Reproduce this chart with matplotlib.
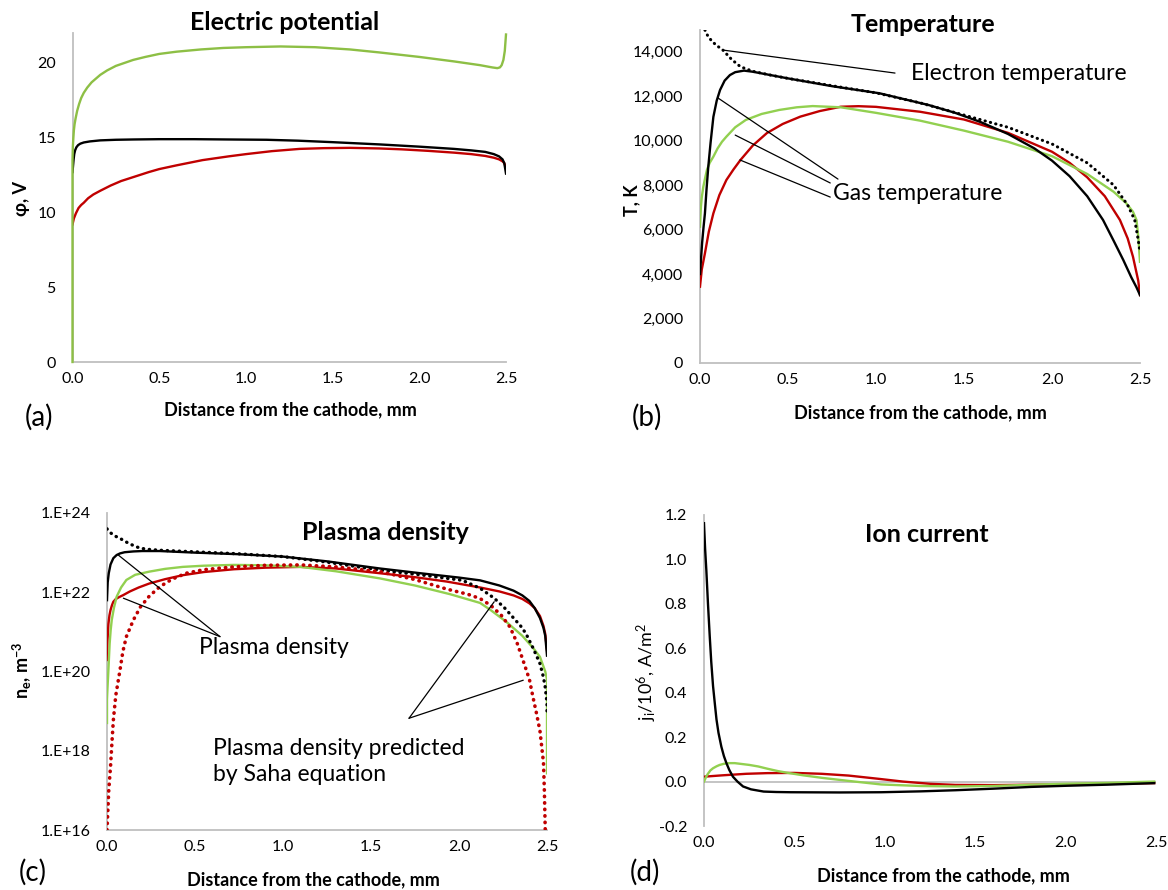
import numpy as np
import matplotlib
matplotlib.use('Agg')
import matplotlib.pyplot as plt
from matplotlib.ticker import FixedLocator, FixedFormatter

plt.rcParams['font.family'] = ['Lato', 'DejaVu Sans']
plt.rcParams['mathtext.fontset'] = 'custom'
plt.rcParams['mathtext.rm'] = 'Lato'
plt.rcParams['mathtext.bf'] = 'Lato:bold'
plt.rcParams['mathtext.it'] = 'Lato:italic'

BLACK = '#000000'
RED = '#c00000'
GREEN = '#92d050'
GREEN_A = '#8dbf45'
AXC = '#bfbfbf'

# ---- (a) electric potential, V
xa_green = [0, 0, 0.002, 0.005, 0.008, 0.012, 0.018, 0.027, 0.038, 0.05, 0.065, 0.085, 0.11, 0.135,
            0.16, 0.2, 0.25, 0.3, 0.35, 0.42, 0.5, 0.6, 0.74, 0.87, 1.0, 1.2, 1.4, 1.6, 1.77, 2.0,
            2.2, 2.35, 2.42, 2.45, 2.465, 2.475, 2.485, 2.493, 2.5]
phi_green = [0, 13.5, 14.4, 15.0, 15.5, 15.9, 16.3, 16.8, 17.25, 17.65, 18.0, 18.35, 18.7, 18.95,
             19.2, 19.5, 19.8, 20.0, 20.2, 20.4, 20.6, 20.75, 20.9, 21.0, 21.05, 21.1, 21.05, 20.9,
             20.7, 20.4, 20.1, 19.85, 19.7, 19.65, 19.7, 19.85, 20.2, 20.8, 21.9]
xa_black = [0, 0.003, 0.006, 0.01, 0.015, 0.022, 0.032, 0.045, 0.065, 0.1, 0.16, 0.25, 0.35, 0.5,
            0.7, 0.9, 1.12, 1.3, 1.5, 1.77, 2.0, 2.2, 2.3, 2.38, 2.43, 2.46, 2.48, 2.49, 2.5]
phi_black = [12.7, 13.1, 13.5, 13.9, 14.15, 14.35, 14.5, 14.6, 14.68, 14.75, 14.82, 14.86, 14.88,
             14.9, 14.9, 14.88, 14.86, 14.8, 14.7, 14.55, 14.4, 14.25, 14.15, 14.05, 13.9, 13.75,
             13.55, 13.3, 12.6]
xa_red = [0, 0.008, 0.02, 0.035, 0.05, 0.065, 0.09, 0.12, 0.16, 0.22, 0.28, 0.36, 0.44, 0.5, 0.6,
          0.75, 0.9, 1.0, 1.15, 1.31, 1.45, 1.6, 1.77, 1.9, 2.05, 2.2, 2.3, 2.38, 2.43, 2.46, 2.48,
          2.49, 2.5]
phi_red = [9.2, 9.6, 9.95, 10.3, 10.5, 10.65, 10.95, 11.2, 11.45, 11.8, 12.1, 12.4, 12.7, 12.9,
           13.15, 13.5, 13.75, 13.9, 14.1, 14.25, 14.3, 14.32, 14.28, 14.22, 14.12, 14.0, 13.9,
           13.78, 13.66, 13.55, 13.42, 13.3, 13.0]

# ---- (b) temperature, K
xb_black = [0, 0.006, 0.012, 0.02, 0.028, 0.037, 0.047, 0.06, 0.076, 0.095, 0.114, 0.14, 0.17, 0.2,
            0.25, 0.3, 0.4, 0.5, 0.75, 1.02, 1.3, 1.45, 1.59, 1.75, 1.9, 2.0, 2.1, 2.2, 2.29, 2.35,
            2.405, 2.45, 2.48, 2.5]
T_black = [4000, 4700, 5400, 6100, 6730, 7800, 8820, 9900, 11070, 11800, 12280, 12700, 12950, 13080,
           13150, 13100, 12950, 12800, 12450, 12130, 11600, 11250, 10850, 10300, 9650, 9100, 8400,
           7500, 6430, 5500, 4630, 3860, 3400, 3050]
xb_red = [0, 0.01, 0.028, 0.05, 0.076, 0.11, 0.15, 0.19, 0.23, 0.3, 0.38, 0.47, 0.57, 0.68, 0.8,
          0.9, 1.0, 1.25, 1.5, 1.75, 2.0, 2.1, 2.2, 2.3, 2.386, 2.43, 2.46, 2.49, 2.5]
T_red = [3430, 4200, 4930, 5900, 6730, 7550, 8230, 8700, 9130, 9780, 10340, 10750, 11080, 11330,
         11525, 11550, 11520, 11300, 10950, 10350, 9500, 9000, 8350, 7500, 6430, 5600, 4780, 3700,
         3050]
xb_green = [0, 0.005, 0.01, 0.019, 0.03, 0.04, 0.055, 0.076, 0.1, 0.125, 0.15, 0.2, 0.26, 0.35, 0.45,
            0.55, 0.64, 0.8, 1.0, 1.25, 1.5, 1.75, 2.0, 2.2, 2.35, 2.42, 2.46, 2.48, 2.49, 2.5]
T_green = [6130, 7000, 7450, 7930, 8350, 8700, 9000, 9280, 9650, 9950, 10180, 10600, 10930, 11200,
           11380, 11500, 11555, 11500, 11250, 10900, 10450, 9950, 9300, 8500, 7700, 7200, 6800,
           6430, 5700, 4550]
xb_el = [0.015, 0.028, 0.045, 0.07, 0.1, 0.13, 0.18, 0.23, 0.3, 0.4, 0.5, 0.75, 1.0, 1.25, 1.5,
         1.75, 2.0, 2.2, 2.35, 2.43, 2.47, 2.49, 2.5]
T_el = [15200, 14975, 14700, 14450, 14250, 14075, 13650, 13325, 13120, 12950, 12800, 12470, 12150,
        11700, 11150, 10600, 9850, 9000, 8000, 7100, 6430, 5530, 5000]

# ---- (c) plasma density, log10 of m^-3
xc_black_saha = [0, 0.02, 0.045, 0.074, 0.1, 0.13, 0.16, 0.19, 0.24, 0.3, 0.4, 0.5, 0.75, 1.0, 1.25,
                 1.55, 1.8, 2.02, 2.12, 2.2, 2.26, 2.31, 2.35, 2.38, 2.42, 2.46, 2.48, 2.49, 2.5,
                 2.5]
lg_black_saha = [23.6, 23.5, 23.42, 23.36, 23.29, 23.22, 23.16, 23.11, 23.08, 23.06, 23.04, 23.02,
                 22.97, 22.9, 22.76, 22.56, 22.43, 22.3, 22.1, 21.85, 21.6, 21.35, 21.15, 20.96,
                 20.6, 20.2, 19.85, 19.6, 19.2, 18.95]
xc_black = [0, 0.004, 0.01, 0.02, 0.036, 0.055, 0.074, 0.1, 0.15, 0.2, 0.3, 0.5, 0.75, 1.0, 1.25,
            1.55, 1.8, 2.0, 2.12, 2.23, 2.31, 2.36, 2.4, 2.43, 2.46, 2.48, 2.49, 2.5]
lg_black = [21.8, 22.25, 22.48, 22.7, 22.86, 22.94, 22.98, 23.01, 23.03, 23.04, 23.04, 23.0, 22.96,
            22.9, 22.78, 22.6, 22.47, 22.37, 22.3, 22.17, 22.04, 21.92, 21.78, 21.6, 21.35, 21.1,
            20.9, 20.4]
xc_red = [0, 0.003, 0.008, 0.014, 0.02, 0.028, 0.036, 0.05, 0.07, 0.093, 0.13, 0.18, 0.24, 0.33,
          0.43, 0.55, 0.72, 0.9, 1.1, 1.3, 1.55, 1.75, 1.93, 2.12, 2.23, 2.31, 2.36, 2.4, 2.43,
          2.46, 2.48, 2.49, 2.5]
lg_red = [20.29, 20.8, 21.2, 21.42, 21.55, 21.67, 21.76, 21.83, 21.88, 21.93, 22.02, 22.12, 22.22,
          22.33, 22.43, 22.51, 22.58, 22.62, 22.64, 22.6, 22.48, 22.38, 22.27, 22.12, 22.02, 21.92,
          21.83, 21.72, 21.6, 21.4, 21.15, 20.95, 20.54]
xc_green = [0, 0, 0.003, 0.008, 0.015, 0.021, 0.027, 0.04, 0.055, 0.08, 0.11, 0.16, 0.24, 0.33,
            0.43, 0.55, 0.72, 0.9, 1.1, 1.3, 1.55, 1.75, 1.95, 2.12, 2.18, 2.27, 2.36, 2.42, 2.46,
            2.49, 2.5, 2.5]
lg_green = [18.7, 19.3, 19.6, 20.04, 20.7, 21.05, 21.3, 21.62, 21.89, 22.12, 22.31, 22.44, 22.52,
            22.59, 22.64, 22.67, 22.69, 22.68, 22.64, 22.53, 22.35, 22.17, 21.95, 21.73, 21.55,
            21.25, 20.9, 20.6, 20.37, 20.0, 19.8, 17.43]
xc_red_saha = [0, 0.005, 0.01, 0.02, 0.028, 0.036, 0.05, 0.074, 0.09, 0.11, 0.15, 0.19, 0.24, 0.3,
               0.37, 0.45, 0.55, 0.72, 0.9, 1.1, 1.3, 1.55, 1.75, 1.93, 2.05, 2.12, 2.18, 2.24,
               2.29, 2.33, 2.37, 2.4, 2.42, 2.44, 2.46, 2.47, 2.48, 2.485, 2.49]
lg_red_saha = [16.0, 16.5, 17.0, 17.6, 18.2, 18.77, 19.4, 20.04, 20.5, 20.88, 21.3, 21.63, 21.9,
               22.14, 22.33, 22.48, 22.57, 22.64, 22.68, 22.69, 22.64, 22.52, 22.32, 22.08, 21.95,
               21.84, 21.67, 21.42, 21.12, 20.72, 20.2, 19.8, 19.36, 18.95, 18.5, 18.1, 17.7, 17.0,
               16.0]

# ---- (d) ion current density, 10^6 A/m^2
xd_black = [0, 0.006, 0.013, 0.022, 0.032, 0.04, 0.05, 0.06, 0.069, 0.08, 0.096, 0.11, 0.124, 0.14,
            0.16, 0.185, 0.216, 0.26, 0.33, 0.4, 0.48, 0.75, 0.98, 1.2, 1.39, 1.6, 1.81, 2.0, 2.23,
            2.49]
j_black = [1.163, 1.05, 0.95, 0.8, 0.65, 0.54, 0.43, 0.35, 0.28, 0.22, 0.157, 0.115, 0.083, 0.052,
           0.022, 0.0, -0.022, -0.035, -0.045, -0.047, -0.048, -0.049, -0.048, -0.044, -0.039,
           -0.032, -0.024, -0.019, -0.014, -0.007]
xd_red = [0, 0.1, 0.234, 0.35, 0.5, 0.65, 0.8, 0.97, 1.1, 1.25, 1.39, 1.6, 1.81, 2.23, 2.49]
j_red = [0.022, 0.028, 0.035, 0.038, 0.039, 0.035, 0.027, 0.012, 0.0, -0.01, -0.015, -0.016, -0.014,
         -0.01, -0.007]
xd_green = [0, 0.01, 0.02, 0.035, 0.05, 0.07, 0.087, 0.11, 0.14, 0.17, 0.2, 0.25, 0.3, 0.35, 0.41,
            0.48, 0.55, 0.66, 0.8, 0.98, 1.2, 1.39, 1.6, 1.81, 2.0, 2.23, 2.49]
j_green = [0, 0.018, 0.033, 0.05, 0.06, 0.069, 0.075, 0.08, 0.083, 0.083, 0.08, 0.075, 0.068, 0.058,
           0.047, 0.037, 0.028, 0.016, 0.003, -0.013, -0.02, -0.022, -0.02, -0.014, -0.01, -0.006,
           0.0]

x_ticks = [0.0, 0.5, 1.0, 1.5, 2.0, 2.5]

W, H = 1168, 890
fig = plt.figure(figsize=(W / 100, H / 100), dpi=100)


def place(l, t, r, b):
    return fig.add_axes([l / W, 1 - b / H, (r - l) / W, (b - t) / H])


def ftext(x, y, s, **kw):
    fig.text(x / W, 1 - y / H, s, **kw)


def style(ax):
    for s in ('top', 'right'):
        ax.spines[s].set_visible(False)
    for s in ('left', 'bottom'):
        ax.spines[s].set_color(AXC)
        ax.spines[s].set_linewidth(1.3)
    ax.tick_params(length=0, labelsize=11.5, colors='black')
    ax.tick_params(axis='x', pad=7)
    ax.tick_params(axis='y', pad=12)
    ax.set_xlim(0, 2.5)
    ax.set_xticks(x_ticks)
    ax.set_xticklabels(['%.1f' % v for v in x_ticks])
    ax.patch.set_alpha(0)


solid = dict(lw=1.7, zorder=3, solid_joinstyle='round')
dots = dict(linestyle=(0, (0.1, 1.7)), dash_capstyle='round', zorder=3)
leader = dict(arrowstyle='-', lw=0.9, color='black', shrinkA=0, shrinkB=0)
note = dict(fontsize=16.5, va='center', ha='left')

# (a)
ax = place(72.5, 33, 506, 362)
style(ax)
ax.plot(xa_red, phi_red, color=RED, **solid)
ax.plot(xa_black, phi_black, color=BLACK, **solid)
ax.plot(xa_green, phi_green, color=GREEN_A, clip_on=False, **solid)
ax.set_ylim(0, 22)
ax.set_yticks([0, 5, 10, 15, 20])

# (b)
ax = place(700, 29.5, 1140, 362.9)
style(ax)
ax.plot(xb_red, T_red, color=RED, **solid)
ax.plot(xb_green, T_green, color=GREEN, **solid)
ax.plot(xb_black, T_black, color=BLACK, **solid)
ax.plot(xb_el, T_el, color=BLACK, lw=2.2, **dots)
ax.set_ylim(0, 15000)
ax.set_yticks(range(0, 14001, 2000))
ax.set_yticklabels(['{:,}'.format(v) for v in range(0, 14001, 2000)])
ax.annotate('', xy=(0.13, 14075), xytext=(1.108, 13040), arrowprops=leader)
ax.text(1.2, 13000, 'Electron temperature', **note)
ax.annotate('', xy=(0.102, 11920), xytext=(0.784, 8270), arrowprops=leader)
ax.annotate('', xy=(0.2, 10250), xytext=(0.74, 8095), arrowprops=leader)
ax.annotate('', xy=(0.227, 9130), xytext=(0.74, 7460), arrowprops=leader)
ax.text(0.755, 7640, 'Gas temperature', **note)

# (c)
ax = place(107, 513, 547, 830)
style(ax)
ax.set_yscale('log')
ax.plot(xc_red, 10 ** np.array(lg_red), color=RED, **solid)
ax.plot(xc_black, 10 ** np.array(lg_black), color=BLACK, **solid)
ax.plot(xc_green, 10 ** np.array(lg_green), color=GREEN, **solid)
ax.plot(xc_black_saha, 10 ** np.array(lg_black_saha), color=BLACK, lw=2.4, **dots)
ax.plot(xc_red_saha, 10 ** np.array(lg_red_saha), color=RED, lw=2.6, **dots)
ax.set_ylim(1e16, 1e24)
c_ticks = [1e16, 1e18, 1e20, 1e22, 1e24]
ax.yaxis.set_major_locator(FixedLocator(c_ticks))
ax.yaxis.set_major_formatter(FixedFormatter(['1.E+16', '1.E+18', '1.E+20', '1.E+22', '1.E+24']))
ax.yaxis.set_minor_locator(FixedLocator([]))
ax.annotate('', xy=(0.064, 10 ** 22.94), xytext=(0.642, 10 ** 20.88), arrowprops=leader)
ax.annotate('', xy=(0.093, 10 ** 21.85), xytext=(0.642, 10 ** 20.88), arrowprops=leader)
ax.text(0.52, 10 ** 20.6, 'Plasma density', **note)
ax.annotate('', xy=(2.2, 10 ** 21.76), xytext=(1.716, 10 ** 18.82), arrowprops=leader)
ax.annotate('', xy=(2.365, 10 ** 19.78), xytext=(1.716, 10 ** 18.82), arrowprops=leader)
ax.text(0.6, 10 ** 17.74, 'Plasma density predicted\nby Saha equation', linespacing=1.3, **note)

# (d)
ax = place(704, 515, 1156, 826)
style(ax)
ax.spines['bottom'].set_visible(False)
ax.axhline(0, color=AXC, lw=1.3, zorder=1)
ax.plot(xd_red, j_red, color=RED, **solid)
ax.plot(xd_green, j_green, color=GREEN, **solid)
ax.plot(xd_black, j_black, color=BLACK, **solid)
ax.set_ylim(-0.2, 1.2)
d_ticks = [-0.2, 0.0, 0.2, 0.4, 0.6, 0.8, 1.0, 1.2]
ax.set_yticks(d_ticks)
ax.set_yticklabels(['%.1f' % v for v in d_ticks])

# titles, axis labels, panel letters
title = dict(fontsize=18, fontweight='bold', ha='center', va='center')
ftext(285, 22, 'Electric potential', **title)
ftext(923, 24, 'Temperature', **title)
ftext(385, 532, 'Plasma density', **title)
ftext(927, 535, 'Ion current', **title)

xl = 'Distance from the cathode, mm'
xlab = dict(fontsize=13, fontweight='bold', ha='center', va='center')
ftext(290, 410, xl, **xlab)
ftext(920, 413, xl, **xlab)
ftext(313, 880, xl, **xlab)
ftext(943, 876, xl, **xlab)

ylab = dict(fontsize=13, rotation=90, ha='center', va='center')
ftext(21, 198, 'φ, V', fontweight='bold', **ylab)
ftext(632, 200, 'T, K', fontweight='bold', **ylab)
ftext(23, 670, r'n$_\mathbf{e}$, m$^\mathbf{-3}$', fontweight='bold', **ylab)
ftext(647, 672, r'j$_\mathrm{i}$/10$^\mathrm{6}$, A/m$^\mathrm{2}$', **ylab)

letter = dict(fontsize=20, ha='center', va='center')
ftext(39, 417, '(a)', **letter)
ftext(647, 417, '(b)', **letter)
ftext(33, 872, '(c)', **letter)
ftext(645, 872, '(d)', **letter)

fig.savefig('out.png', dpi=100, facecolor='white')
